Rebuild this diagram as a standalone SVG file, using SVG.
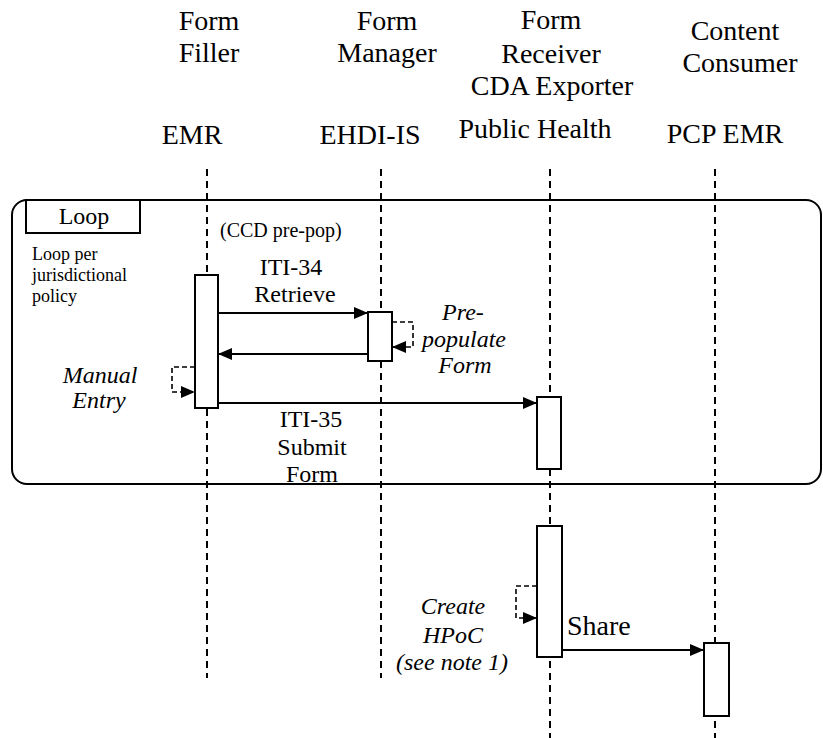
<svg xmlns="http://www.w3.org/2000/svg" width="823" height="738" viewBox="0 0 823 738">
<style>
text{font-family:"Liberation Serif","Times New Roman",serif;fill:#000}
.hd{font-size:28px;text-anchor:middle}
.lb{font-size:24px;text-anchor:middle}
.it{font-size:24px;font-style:italic;text-anchor:middle}
.sm{font-size:18px}
.life{stroke:#000;stroke-width:2;stroke-dasharray:7 5;fill:none}
.act{fill:#fff;stroke:#000;stroke-width:2}
.msg{stroke:#000;stroke-width:2;fill:none;marker-end:url(#ah)}
.self{stroke:#000;stroke-width:1.6;stroke-dasharray:5 3;fill:none;marker-end:url(#ah)}
</style>
<defs>
<marker id="ah" markerUnits="userSpaceOnUse" markerWidth="14" markerHeight="12" refX="14" refY="6" orient="auto">
<path d="M0,0 L14,6 L0,12 z" fill="#000" stroke="none"/>
</marker>
</defs>
<rect width="823" height="738" fill="#fff"/>
<g id="loop-frame">
<rect x="12" y="200" width="809" height="284" rx="15" ry="15" fill="none" stroke="#000" stroke-width="2"/>
<rect x="26" y="200" width="114" height="33" fill="#fff" stroke="#000" stroke-width="2"/>
<text class="lb" x="84" y="224">Loop</text>
<text class="sm" x="32" y="260">Loop per</text>
<text class="sm" x="32" y="281">jurisdictional</text>
<text class="sm" x="32" y="302">policy</text>
</g>
<g id="emr">
<text class="hd" x="209" y="30">Form</text>
<text class="hd" x="209" y="62">Filler</text>
<text class="hd" x="192" y="144">EMR</text>
<line class="life" x1="207" y1="169" x2="207" y2="678"/>
<rect class="act" x="195" y="275" width="23" height="133"/>
</g>
<g id="ehdi-is">
<text class="hd" x="387" y="30">Form</text>
<text class="hd" x="387" y="62">Manager</text>
<text class="hd" x="370" y="144">EHDI-IS</text>
<line class="life" x1="381" y1="169" x2="381" y2="678"/>
<rect class="act" x="368" y="312" width="24" height="49"/>
</g>
<g id="public-health">
<text class="hd" x="551" y="29">Form</text>
<text class="hd" x="551" y="63">Receiver</text>
<text class="hd" x="552" y="95">CDA Exporter</text>
<text class="hd" x="535" y="138">Public Health</text>
<line class="life" x1="550" y1="169" x2="550" y2="738"/>
<rect class="act" x="537" y="397" width="24" height="72"/>
<rect class="act" x="537" y="526" width="25" height="131"/>
</g>
<g id="pcp-emr">
<text class="hd" x="735" y="40">Content</text>
<text class="hd" x="740" y="72">Consumer</text>
<text class="hd" x="725" y="143">PCP EMR</text>
<line class="life" x1="715" y1="169" x2="715" y2="738"/>
<rect class="act" x="704" y="643" width="25" height="73"/>
</g>
<g id="connectors">
<path class="msg" d="M218,313 H368"/>
<path class="msg" d="M368,354 H218"/>
<path class="msg" d="M218,403 H537"/>
<path class="msg" d="M562,650 H704"/>
<path class="self" d="M392,322 H413 V347 H392"/>
<path class="self" d="M195,367 H172 V392 H195"/>
<path class="self" d="M537,586 H516 V618 H537"/>
</g>
<g id="labels">
<text x="220" y="237" style="font-size:20px">(CCD pre-pop)</text>
<text class="lb" x="291" y="275">ITI-34</text>
<text class="lb" x="295" y="302">Retrieve</text>
<text class="it" x="463" y="320">Pre-</text>
<text class="it" x="464" y="347">populate</text>
<text class="it" x="465" y="373">Form</text>
<text class="it" x="100" y="383">Manual</text>
<text class="it" x="99" y="408">Entry</text>
<text class="lb" x="311" y="427">ITI-35</text>
<text class="lb" x="312" y="455">Submit</text>
<text class="lb" x="312" y="482">Form</text>
<text class="it" x="453" y="614">Create</text>
<text class="it" x="453" y="643">HPoC</text>
<text class="it" x="452" y="670">(see note 1)</text>
<text x="567" y="635" style="font-size:28px">Share</text>
</g>
</svg>
